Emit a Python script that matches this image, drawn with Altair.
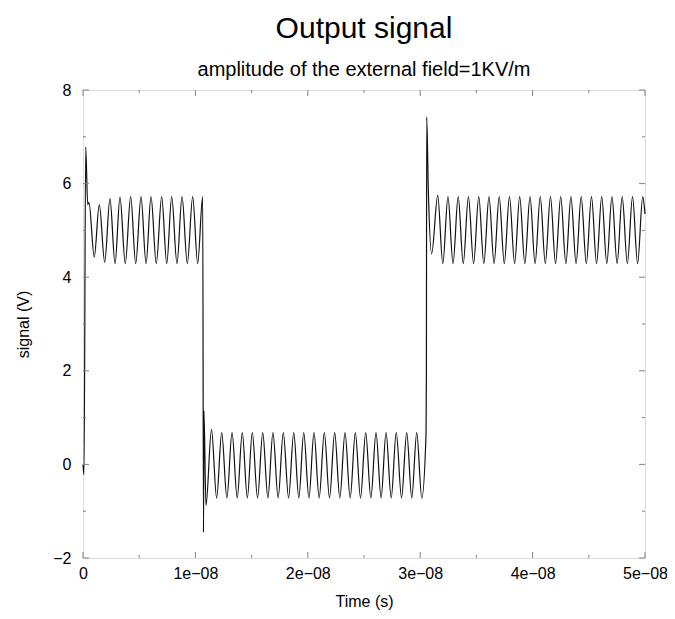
import altair as alt
import pandas as pd

# time in nanoseconds, signal in volts
time_ns = [
    0.00, 0.09, 0.24, 0.42, 0.53, 1.00, 1.45, 1.93, 2.40, 2.85, 3.29, 3.76, 4.24, 4.69,
    5.16, 5.61, 6.05, 6.52, 7.00, 7.45, 7.89, 8.36, 8.81, 9.28, 9.76, 10.20, 10.65,
    10.72, 10.76, 10.94, 11.43, 11.89, 12.34, 12.80, 13.26, 13.72, 14.17, 14.62, 15.06,
    15.53, 15.99, 16.45, 16.90, 17.36, 17.82, 18.29, 18.75, 19.20, 19.64, 20.10, 20.55,
    21.01, 21.47, 21.93, 22.39, 22.85, 23.31, 23.77, 24.23, 24.69, 25.15, 25.61, 26.07,
    26.52, 26.96, 27.42, 27.87, 28.34, 28.80, 29.25, 29.69, 30.14, 30.52, 30.55, 30.58,
    30.72, 31.02, 31.56, 32.01, 32.47, 32.92, 33.38, 33.83, 34.29, 34.75, 35.21, 35.66,
    36.12, 36.57, 37.03, 37.48, 37.94, 38.40, 38.85, 39.31, 39.77, 40.22, 40.68, 41.13,
    41.59, 42.04, 42.50, 42.96, 43.41, 43.87, 44.32, 44.78, 45.24, 45.69, 46.15, 46.60,
    47.06, 47.52, 47.97, 48.43, 48.89, 49.34, 49.80, 50.00,
]
signal_v = [
    0.00, -0.22, 6.78, 5.55, 5.60, 4.43, 5.55, 4.32, 5.68, 4.29, 5.71, 4.29, 5.72, 4.29,
    5.72, 4.29, 5.72, 4.29, 5.72, 4.29, 5.72, 4.29, 5.72, 4.29, 5.72, 4.29, 5.72,
    -1.45, 1.15, -0.88, 0.75, -0.72, 0.68, -0.72, 0.68, -0.72, 0.68, -0.72, 0.68,
    -0.72, 0.68, -0.72, 0.68, -0.72, 0.68, -0.72, 0.68, -0.72, 0.68, -0.72, 0.68,
    -0.72, 0.68, -0.72, 0.68, -0.72, 0.68, -0.72, 0.68, -0.72, 0.68, -0.72, 0.68,
    -0.72, 0.68, -0.72, 0.68, -0.72, 0.68, -0.72, 0.68, -0.72, 0.66, 1.90, 7.42,
    5.90, 4.50, 5.75, 4.29, 5.72, 4.29, 5.72, 4.29, 5.72, 4.29, 5.72, 4.29,
    5.72, 4.29, 5.72, 4.29, 5.72, 4.29, 5.72, 4.29, 5.72, 4.29, 5.72, 4.29,
    5.72, 4.29, 5.72, 4.29, 5.72, 4.29, 5.72, 4.29, 5.72, 4.29, 5.72, 4.29,
    5.72, 4.29, 5.72, 4.29, 5.72, 4.29, 5.72, 5.35,
]

x_major = [0, 1e-8, 2e-8, 3e-8, 4e-8, 5e-8]
x_minor = [0.5e-8, 1.5e-8, 2.5e-8, 3.5e-8, 4.5e-8]
y_major = [-2, 0, 2, 4, 6, 8]
y_minor = [-1, 1, 3, 5, 7]

W, H = 562, 468
FONT = "Liberation Sans"
FRAME = "#808080"

df = pd.DataFrame({"t": [v * 1e-9 for v in time_ns], "s": signal_v})

xscale = alt.Scale(domain=[0, 5e-8], nice=False, zero=False)
yscale = alt.Scale(domain=[-2, 8], nice=False, zero=False)

line = alt.Chart(df).mark_line(
    interpolate="monotone", color="#111111", strokeWidth=1.2
).encode(
    x=alt.X("t:Q", scale=xscale, title="Time (s)",
            axis=alt.Axis(values=x_major, ticks=False, domain=False, grid=False,
                          labelExpr="datum.value == 0 ? '0' : round(datum.value * 1e8) + 'e\u221208'",
                          labelFont=FONT, labelFontSize=16, labelColor="black",
                          labelPadding=7, labelFlush=False,
                          titleFont=FONT, titleFontSize=16, titleFontWeight="normal",
                          titleColor="black", titlePadding=12)),
    y=alt.Y("s:Q", scale=yscale, title="signal (V)",
            axis=alt.Axis(values=y_major, ticks=False, domain=False, grid=False,
                          format="d",
                          labelFont=FONT, labelFontSize=16, labelColor="black",
                          labelPadding=12, labelFlush=False,
                          titleFont=FONT, titleFontSize=16, titleFontWeight="normal",
                          titleColor="black", titlePadding=21)),
)

def xticks(vals, length):
    d = pd.DataFrame({"t": vals})
    bottom = alt.Chart(d).mark_rule(color=FRAME, strokeWidth=1).encode(
        x=alt.X("t:Q", scale=xscale), y=alt.value(H), y2=alt.value(H - length))
    top = alt.Chart(d).mark_rule(color=FRAME, strokeWidth=1).encode(
        x=alt.X("t:Q", scale=xscale), y=alt.value(0), y2=alt.value(length))
    return [bottom, top]

def yticks(vals, length):
    d = pd.DataFrame({"s": vals})
    left = alt.Chart(d).mark_rule(color=FRAME, strokeWidth=1).encode(
        y=alt.Y("s:Q", scale=yscale), x=alt.value(0), x2=alt.value(length))
    right = alt.Chart(d).mark_rule(color=FRAME, strokeWidth=1).encode(
        y=alt.Y("s:Q", scale=yscale), x=alt.value(W), x2=alt.value(W - length))
    return [left, right]

layers = (xticks(x_major, 6) + xticks(x_minor, 3) + yticks(y_major, 6) + yticks(y_minor, 3))

chart = alt.layer(line, *layers).properties(
    width=W, height=H,
    autosize=alt.AutoSizeParams(type="none"),
    padding={"left": 75, "top": 82, "right": 22, "bottom": 56},
    title=alt.TitleParams(
        text="Output signal",
        subtitle="amplitude of the external field=1KV/m",
        font=FONT, fontSize=30, fontWeight="normal", color="black",
        subtitleFont=FONT, subtitleFontSize=20, subtitleColor="black",
        subtitlePadding=16, anchor="middle", offset=2,
    ),
).configure_view(stroke=FRAME, strokeWidth=1).configure(background="white")

chart.save("out.html", embed_options={"renderer": "svg", "actions": False})
